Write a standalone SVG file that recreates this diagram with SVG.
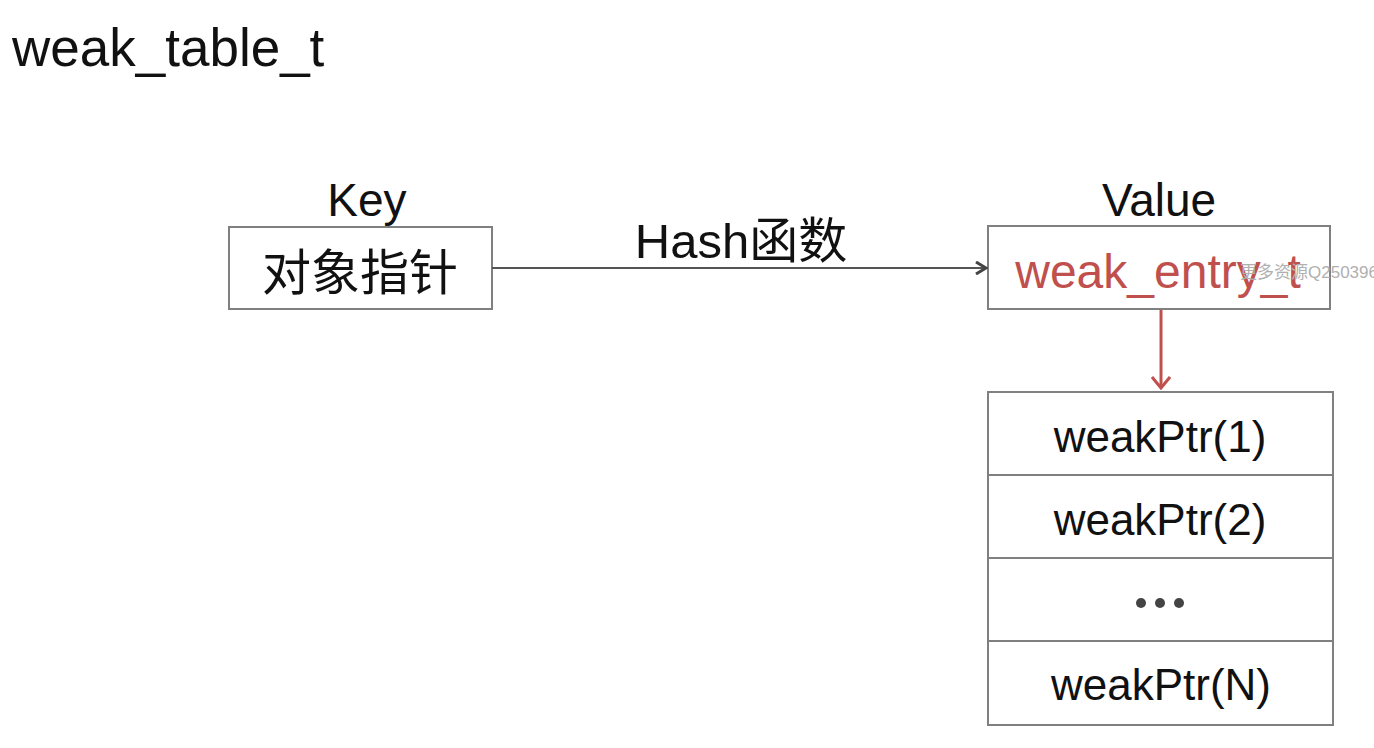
<svg xmlns="http://www.w3.org/2000/svg" width="1374" height="748" viewBox="0 0 1374 748">
<style>
  text { font-family: "Liberation Sans", "Noto Sans CJK SC", Arial, sans-serif; fill: #111; }
  .box { fill: #fff; stroke: #808080; stroke-width: 2; }
  .c { text-anchor: middle; }
</style>
<defs>
  <marker id="arrB" markerWidth="14" markerHeight="14" refX="12" refY="7" orient="auto" markerUnits="userSpaceOnUse">
    <path d="M2,1 L12,7 L2,13" fill="none" stroke="#444" stroke-width="3"/>
  </marker>
  <marker id="arrR" markerWidth="20" markerHeight="16" refX="10" refY="14" orient="0" markerUnits="userSpaceOnUse">
    <path d="M1,3 L10,14 L19,3" fill="none" stroke="#c0504d" stroke-width="3"/>
  </marker>
</defs>
<rect width="1374" height="748" fill="#fff"/>
<text x="12" y="66" font-size="53">weak_table_t</text>

<g id="key">
  <text x="367" y="216" font-size="46" class="c">Key</text>
  <rect class="box" x="229" y="227" width="263" height="82"/>
  <text x="360" y="290" font-size="49" class="c">对象指针</text>
</g>

<g id="value">
  <text x="1159" y="216" font-size="46" class="c">Value</text>
  <rect class="box" x="988" y="226" width="342" height="83"/>
  <text x="1158" y="288" font-size="48" class="c" style="fill:#c0504d">weak_entry_t</text>
</g>

<g id="list">
  <rect class="box" x="988" y="392" width="345" height="333"/>
  <line x1="988" y1="475" x2="1333" y2="475" stroke="#808080" stroke-width="2"/>
  <line x1="988" y1="558" x2="1333" y2="558" stroke="#808080" stroke-width="2"/>
  <line x1="988" y1="641" x2="1333" y2="641" stroke="#808080" stroke-width="2"/>
  <text x="1160" y="452" font-size="44" class="c">weakPtr(1)</text>
  <text x="1160" y="535" font-size="44" class="c">weakPtr(2)</text>
  <circle cx="1141" cy="603" r="5" fill="#444"/>
  <circle cx="1160" cy="603" r="5" fill="#444"/>
  <circle cx="1179" cy="603" r="5" fill="#444"/>
  <text x="1161" y="700" font-size="44" class="c">weakPtr(N)</text>
</g>

<g id="connectors">
  <line x1="492" y1="268" x2="986" y2="268" stroke="#555" stroke-width="2" marker-end="url(#arrB)"/>
  <text x="741" y="258" font-size="49" class="c">Hash函数</text>
  <line x1="1161" y1="310" x2="1161" y2="388" stroke="#c0504d" stroke-width="3" marker-end="url(#arrR)"/>
</g>

<text x="1240" y="278" font-size="17" style="fill:#b0b0b0">更多资源Q250396</text>
</svg>
